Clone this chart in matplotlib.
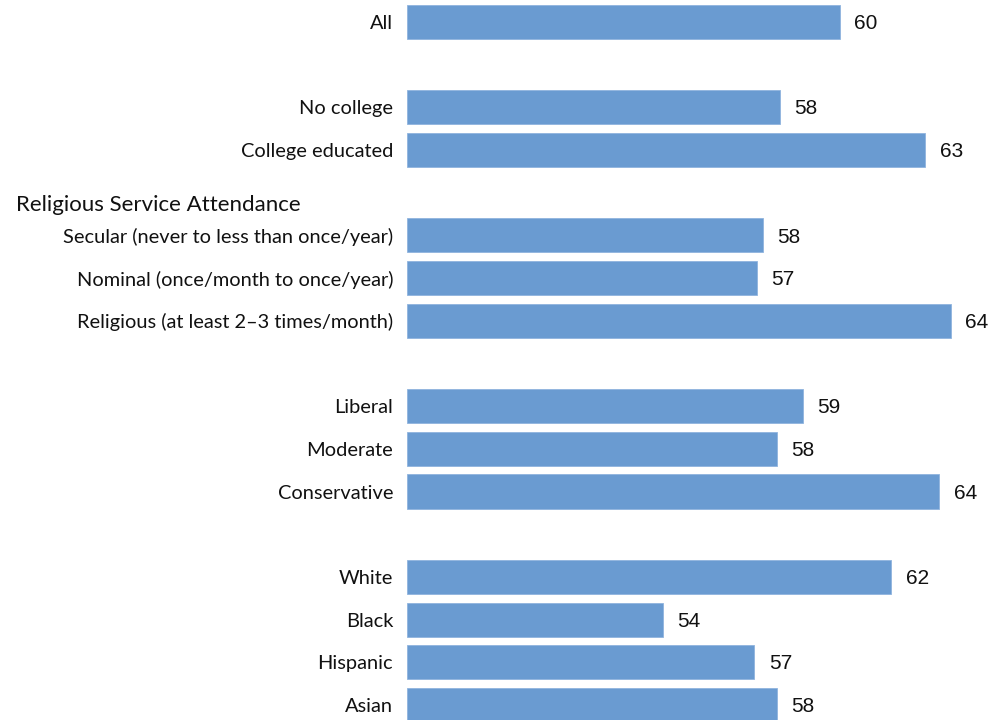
import matplotlib
matplotlib.use("Agg")
import matplotlib.pyplot as plt

# rows top to bottom, None = gap / header row
labels = ["All", None, "No college", "College educated", None,
          "Secular (never to less than once/year)",
          "Nominal (once/month to once/year)",
          "Religious (at least 2\u20133 times/month)", None,
          "Liberal", "Moderate", "Conservative", None,
          "White", "Black", "Hispanic", "Asian"]
# bar lengths (unrounded estimates) and the rounded numbers printed beside them
values = [60.3, None, 58.2, 63.3, None, 57.6, 57.4, 64.2, None, 59.0, 58.1, 63.8, None,
          62.1, 54.1, 57.3, 58.1]
shown = [60, None, 58, 63, None, 58, 57, 64, None, 59, 58, 64, None, 62, 54, 57, 58]
header = "Religious Service Attendance"
header_row = 4

bar_color = "#6a9bd1"
x0 = 45.12

fig = plt.figure(figsize=(10.07, 7.2), dpi=100)
ax = fig.add_axes([407/1007, -6.3/720, 600/1007, 725.7/720])

for i, (lab, v, s) in enumerate(zip(labels, values, shown)):
    if v is None:
        continue
    ax.barh(i, v - x0, left=x0, height=0.8, color=bar_color, edgecolor="#8fb4de", linewidth=0.6)
    ax.annotate(lab, (x0, i), xytext=(-10, -1.2), textcoords="offset points",
                ha="right", va="center", fontsize=14.4, family="Lato", color="#111111")
    ax.annotate(str(s), (v, i), xytext=(10.5, -1.2), textcoords="offset points",
                ha="left", va="center", fontsize=15, family="Liberation Sans", color="#111111")

ax.text(-0.652, header_row + 0.28, header, transform=ax.get_yaxis_transform(),
        ha="left", va="center", fontsize=16, family="Lato", color="#111111")

ax.set_xlim(x0, x0 + 600/28.5)
ax.set_ylim(len(labels) - 0.5, -0.5)
ax.axis("off")

fig.savefig("out.png", dpi=100)
